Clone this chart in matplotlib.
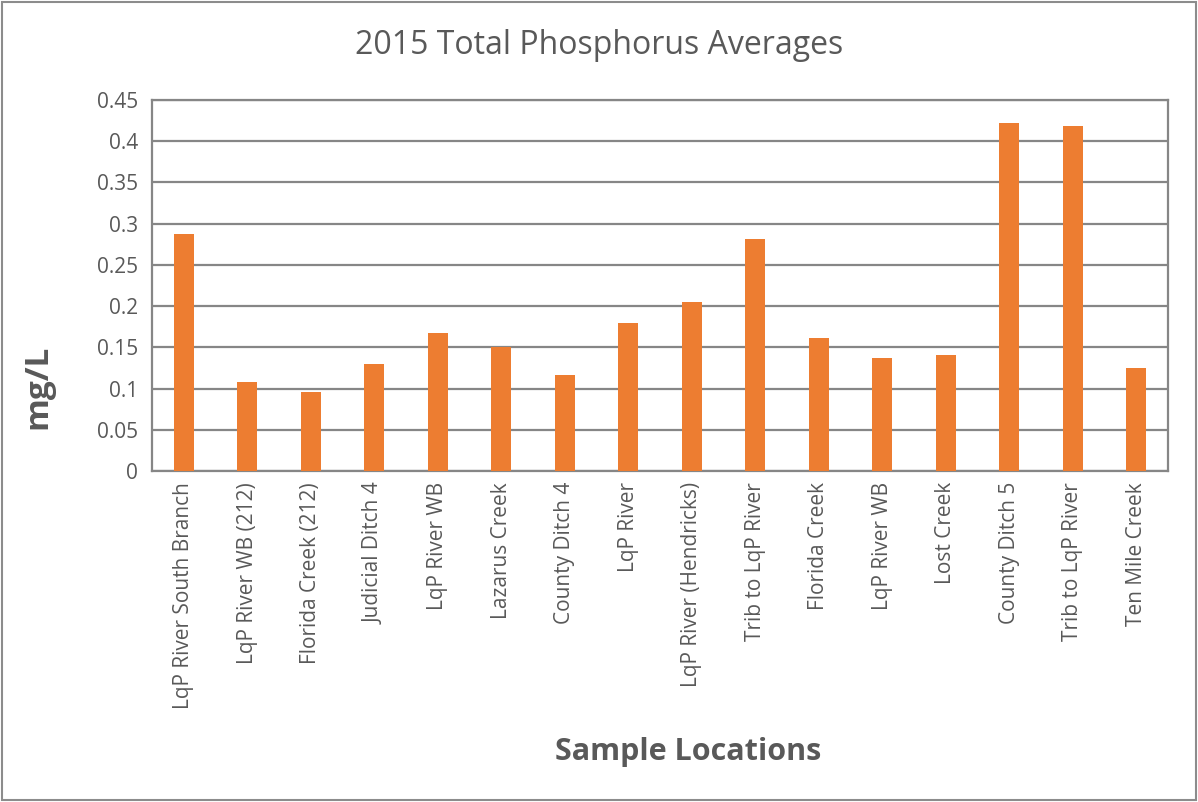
import matplotlib.pyplot as plt
from matplotlib.patches import Rectangle

plt.rcParams['font.family'] = ['Open Sans', 'DejaVu Sans']

# %% data
locations = [
    'LqP River South Branch', 'LqP River WB (212)', 'Florida Creek (212)',
    'Judicial Ditch 4', 'LqP River WB', 'Lazarus Creek', 'County Ditch 4',
    'LqP River', 'LqP River (Hendricks)', 'Trib to LqP River',
    'Florida Creek', 'LqP River WB', 'Lost Creek', 'County Ditch 5',
    'Trib to LqP River', 'Ten Mile Creek',
]
tp_avg = [0.288, 0.108, 0.096, 0.130, 0.167, 0.151, 0.117, 0.180,
          0.205, 0.282, 0.161, 0.137, 0.141, 0.422, 0.418, 0.125]
y_ticks = [0, 0.05, 0.1, 0.15, 0.2, 0.25, 0.3, 0.35, 0.4, 0.45]
y_ticklabels = ['0', '0.05', '0.1', '0.15', '0.2', '0.25', '0.3', '0.35', '0.4', '0.45']

text_col = '#595959'
grid_col = '#868686'

# %% figure
fig = plt.figure(figsize=(11.98, 8.02), dpi=100, facecolor='white')
ax = fig.add_axes([152 / 1198, 1 - 471 / 802, 1016 / 1198, 371 / 802])

x = range(len(locations))
ax.bar(x, tp_avg, width=0.31, color='#ED7D31', zorder=3)

ax.set_xlim(-0.5, len(locations) - 0.5)
ax.set_ylim(0, 0.45)
ax.set_yticks(y_ticks)
ax.set_yticklabels(y_ticklabels)
ax.set_xticks(list(x))
ax.set_xticklabels(locations, rotation=90)
ax.tick_params(axis='both', length=0, labelsize=15, labelcolor=text_col)
ax.tick_params(axis='y', pad=10)
ax.tick_params(axis='x', pad=8)

ax.yaxis.grid(True, color=grid_col, linewidth=1.6, zorder=0)
for s in ax.spines.values():
    s.set_color(grid_col)
    s.set_linewidth(1.6)

# axis titles and chart title placed like in the original
fig.text(38 / 1198, 1 - 387 / 802, 'mg/L', fontsize=24, fontweight='bold',
         color=text_col, rotation=90, ha='center', va='center')
fig.text(688 / 1198, 1 - 752 / 802, 'Sample Locations', fontsize=22,
         fontweight='bold', color=text_col, ha='center', va='center')
fig.text(599 / 1198, 1 - 45 / 802, '2015 Total Phosphorus Averages',
         fontsize=23, color=text_col, ha='center', va='center')

# outer chart border
fig.patches.append(Rectangle((0.0015, 0.002), 0.997, 0.996, transform=fig.transFigure,
                             fill=False, edgecolor='#8c8c8c', linewidth=1.5))

fig.savefig('out.png', dpi=100)
